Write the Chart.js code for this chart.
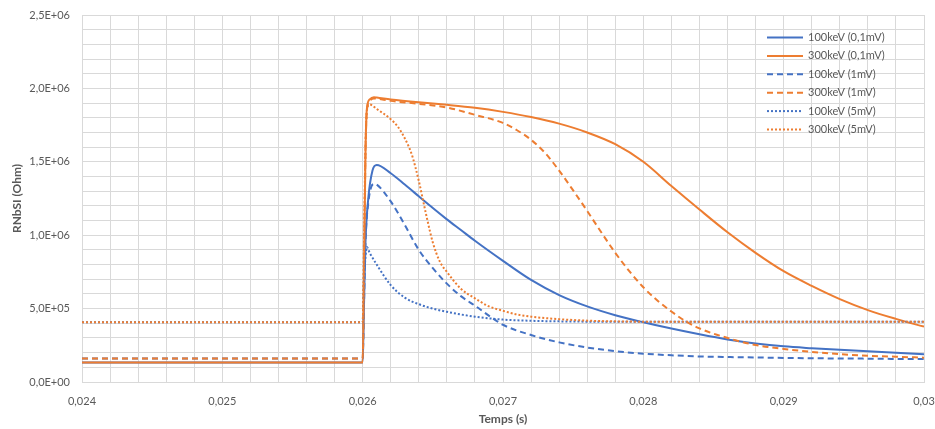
<!DOCTYPE html>
<html>
<head>
<meta charset="utf-8">
<script src="https://cdn.jsdelivr.net/npm/chart.js@4"></script>
<style>
  html, body { margin: 0; padding: 0; background: #fff; }
  #wrap { width: 935px; height: 429px; }
</style>
</head>
<body>
<div id="wrap"><canvas id="chart" width="935" height="429"></canvas></div>
<script>
// Temps (s) and RNbSI (Ohm), one pair of arrays per curve
const temps100_01 = [0.024, 0.026, 0.02601, 0.02602, 0.02604, 0.02607, 0.0261, 0.0262, 0.0263, 0.0264, 0.0265, 0.0266, 0.0267, 0.0268, 0.027, 0.0272, 0.0274, 0.0276, 0.0278, 0.028, 0.0282, 0.0284, 0.0286, 0.0288, 0.029, 0.0292, 0.0294, 0.0296, 0.0298, 0.030];
const rnbsi100_01 = [1.33e5, 1.33e5, 5.5e5, 9.5e5, 1.25e6, 1.44e6, 1.478e6, 1.422e6, 1.345e6, 1.265e6, 1.185e6, 1.108e6, 1.035e6, 9.62e5, 8.25e5, 6.95e5, 5.92e5, 5.15e5, 4.55e5, 4.07e5, 3.64e5, 3.25e5, 2.9e5, 2.63e5, 2.43e5, 2.3e5, 2.19e5, 2.09e5, 1.99e5, 1.89e5];

const temps300_01 = [0.024, 0.026, 0.02601, 0.02602, 0.02603, 0.02605, 0.02608, 0.0261, 0.0262, 0.0264, 0.0266, 0.0268, 0.027, 0.0272, 0.0274, 0.0276, 0.0278, 0.028, 0.0282, 0.0284, 0.0286, 0.0288, 0.029, 0.0292, 0.0294, 0.0296, 0.0298, 0.030];
const rnbsi300_01 = [1.33e5, 1.33e5, 8.0e5, 1.55e6, 1.86e6, 1.925e6, 1.94e6, 1.938e6, 1.925e6, 1.905e6, 1.888e6, 1.868e6, 1.84e6, 1.805e6, 1.76e6, 1.70e6, 1.62e6, 1.50e6, 1.335e6, 1.175e6, 1.02e6, 8.8e5, 7.55e5, 6.55e5, 5.65e5, 4.9e5, 4.3e5, 3.77e5];

const temps100_1 = [0.024, 0.026, 0.02601, 0.02602, 0.02604, 0.02608, 0.0261, 0.0262, 0.0263, 0.0264, 0.0265, 0.0266, 0.0267, 0.0268, 0.027, 0.0272, 0.0274, 0.0276, 0.0278, 0.028, 0.0282, 0.0284, 0.0286, 0.0288, 0.029, 0.0292, 0.0294, 0.0296, 0.0298, 0.030];
const rnbsi100_1 = [1.6e5, 1.6e5, 5.5e5, 9.5e5, 1.22e6, 1.35e6, 1.345e6, 1.23e6, 1.07e6, 9.0e5, 7.75e5, 6.7e5, 5.85e5, 5.2e5, 3.9e5, 3.2e5, 2.7e5, 2.35e5, 2.1e5, 1.93e5, 1.82e5, 1.74e5, 1.7e5, 1.67e5, 1.64e5, 1.62e5, 1.6e5, 1.59e5, 1.57e5, 1.56e5];

const temps300_1 = [0.024, 0.026, 0.02601, 0.02602, 0.02603, 0.02605, 0.02608, 0.0261, 0.0262, 0.0264, 0.0266, 0.0268, 0.027, 0.0271, 0.0272, 0.0273, 0.0274, 0.0275, 0.0276, 0.0277, 0.0278, 0.0279, 0.028, 0.0281, 0.0282, 0.0283, 0.0284, 0.0286, 0.0288, 0.029, 0.0292, 0.0294, 0.0296, 0.0298, 0.030];
const rnbsi300_1 = [1.6e5, 1.6e5, 8.0e5, 1.55e6, 1.85e6, 1.915e6, 1.932e6, 1.93e6, 1.915e6, 1.895e6, 1.87e6, 1.82e6, 1.765e6, 1.715e6, 1.65e6, 1.56e6, 1.44e6, 1.305e6, 1.165e6, 1.02e6, 8.8e5, 7.55e5, 6.45e5, 5.55e5, 4.8e5, 4.15e5, 3.65e5, 3.0e5, 2.52e5, 2.25e5, 2.05e5, 1.9e5, 1.79e5, 1.72e5, 1.66e5];

const temps100_5 = [0.024, 0.026, 0.02601, 0.02602, 0.02603, 0.02605, 0.0261, 0.0262, 0.0263, 0.0264, 0.0265, 0.0266, 0.0267, 0.0268, 0.027, 0.0272, 0.0274, 0.0276, 0.028, 0.029, 0.030];
const rnbsi100_5 = [4.07e5, 4.07e5, 7.0e5, 8.5e5, 9.2e5, 8.8e5, 8.0e5, 6.6e5, 5.75e5, 5.3e5, 5.0e5, 4.78e5, 4.6e5, 4.45e5, 4.25e5, 4.17e5, 4.13e5, 4.11e5, 4.1e5, 4.1e5, 4.1e5];

const temps300_5 = [0.024, 0.026, 0.02601, 0.02602, 0.02603, 0.02605, 0.0261, 0.0262, 0.02625, 0.0263, 0.02635, 0.0264, 0.02645, 0.0265, 0.02655, 0.0266, 0.0267, 0.0268, 0.0269, 0.027, 0.0271, 0.0272, 0.0274, 0.0276, 0.0278, 0.028, 0.029, 0.030];
const rnbsi300_5 = [4.07e5, 4.07e5, 1.0e6, 1.6e6, 1.85e6, 1.89e6, 1.86e6, 1.79e6, 1.74e6, 1.66e6, 1.55e6, 1.37e6, 1.15e6, 9.5e5, 8.2e5, 7.5e5, 6.35e5, 5.7e5, 5.15e5, 4.85e5, 4.6e5, 4.45e5, 4.28e5, 4.18e5, 4.13e5, 4.11e5, 4.1e5, 4.1e5];

const BLUE = '#4472C4';
const ORANGE = '#ED7D31';
const GRID = '#D9D9D9';
const TEXT = '#595959';

const series = [
    { label: '100keV (0,1mV)', t: temps100_01, r: rnbsi100_01, color: BLUE, dash: [] },
    { label: '300keV (0,1mV)', t: temps300_01, r: rnbsi300_01, color: ORANGE, dash: [] },
    { label: '100keV (1mV)', t: temps100_1, r: rnbsi100_1, color: BLUE, dash: [6, 4] },
    { label: '300keV (1mV)', t: temps300_1, r: rnbsi300_1, color: ORANGE, dash: [6, 4] },
    { label: '100keV (5mV)', t: temps100_5, r: rnbsi100_5, color: BLUE, dash: [2, 2] },
    { label: '300keV (5mV)', t: temps300_5, r: rnbsi300_5, color: ORANGE, dash: [2, 2] }
];

function fmtTemps(v) {
    const n = Math.round(v * 10000);
    if (n % 10 !== 0) return '';
    return String(n / 10000).replace('.', ',');
}

function fmtSci(v) {
    const n = Math.round(v / 1e5);
    if (n % 5 !== 0) return '';
    if (n === 0) return '0,0E+00';
    const e = Math.floor(Math.log10(v) + 1e-9);
    const m = (v / Math.pow(10, e)).toFixed(1).replace('.', ',');
    return m + 'E+' + String(e).padStart(2, '0');
}

// legend drawn inside the plot, top right, like the Excel one
const insideLegend = {
    id: 'insideLegend',
    afterDatasetsDraw(chart) {
        const ctx = chart.ctx;
        const area = chart.chartArea;
        const x0 = area.right - 157;
        const y0 = area.top + 22.5;
        ctx.save();
        ctx.font = '11px Lato';
        ctx.textBaseline = 'middle';
        chart.data.datasets.forEach((ds, i) => {
            const y = y0 + i * 18.4;
            ctx.strokeStyle = ds.borderColor;
            ctx.lineWidth = 2;
            ctx.setLineDash(ds.borderDash);
            ctx.beginPath();
            ctx.moveTo(x0, y);
            ctx.lineTo(x0 + 36, y);
            ctx.stroke();
            ctx.setLineDash([]);
            ctx.fillStyle = TEXT;
            ctx.fillText(ds.label, x0 + 41, y);
        });
        ctx.restore();
    }
};

const ctx = document.getElementById('chart').getContext('2d');
new Chart(ctx, {
    type: 'line',
    data: {
        datasets: series.map((s, i) => ({
            label: s.label,
            data: s.t.map((t, k) => ({ x: t, y: s.r[k] })),
            borderColor: s.color,
            borderWidth: 2,
            borderDash: s.dash,
            pointRadius: 0,
            cubicInterpolationMode: 'monotone',
            fill: false,
            order: series.length - i
        }))
    },
    options: {
        responsive: false,
        animation: false,
        layout: { padding: { top: 15, right: 11, left: 0, bottom: 0 } },
        plugins: {
            legend: { display: false },
            tooltip: { enabled: false }
        },
        scales: {
            x: {
                type: 'linear',
                min: 0.024,
                max: 0.030,
                ticks: {
                    stepSize: 0.0002,
                    autoSkip: false,
                    maxRotation: 0,
                    padding: 13,
                    color: TEXT,
                    font: { family: 'Lato', size: 11 },
                    callback: v => fmtTemps(v)
                },
                grid: { color: GRID, drawTicks: false },
                border: { color: GRID },
                title: {
                    display: true,
                    text: 'Temps (s)',
                    color: TEXT,
                    font: { family: 'Lato', size: 12, weight: 'bold' },
                    padding: { top: 0, bottom: 3 }
                },
                afterFit: s => {
                    s.height = 47;
                    s.paddingLeft = 0;
                    s.paddingRight = 0;
                }
            },
            y: {
                min: 0,
                max: 2.5e6,
                ticks: {
                    stepSize: 1e5,
                    autoSkip: false,
                    padding: 12,
                    color: TEXT,
                    font: { family: 'Lato', size: 11 },
                    callback: v => fmtSci(v)
                },
                grid: { color: GRID, drawTicks: false },
                border: { display: false },
                title: {
                    display: true,
                    text: 'RNbSI (Ohm)',
                    color: TEXT,
                    font: { family: 'Lato', size: 12, weight: 'bold' },
                    padding: { top: 10, bottom: 0 }
                },
                afterFit: s => {
                    s.width = 82;
                    s.paddingTop = 0;
                    s.paddingBottom = 0;
                }
            }
        }
    },
    plugins: [insideLegend]
});
</script>
</body>
</html>
